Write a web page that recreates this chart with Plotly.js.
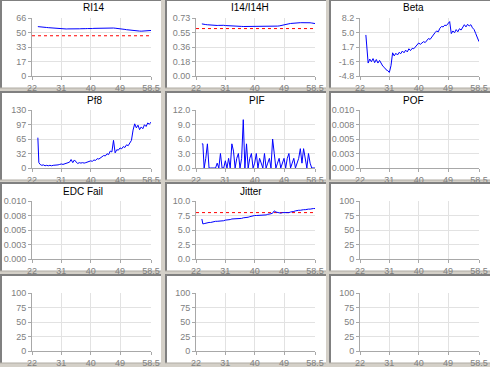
<!DOCTYPE html>
<html><head><meta charset="utf-8">
<script src="https://cdn.plot.ly/plotly-3.0.1.min.js"></script>
<style>html,body{margin:0;padding:0;background:#d4d0c8;overflow:hidden}#chart{width:490px;height:367px}</style>
</head><body><div id="chart"></div>
<script>
// ---------------- data ----------------
const time = [23.8, 24.1, 24.5, 25, 25.5, 26, 26.5, 27, 27.5, 28,
  28.5, 29, 29.5, 30, 30.5, 31, 31.5, 32, 32.5, 33,
  33.5, 34, 34.5, 35, 35.5, 36, 36.5, 37, 37.5, 38,
  38.5, 39, 39.5, 40, 40.5, 41, 41.5, 42, 42.5, 43,
  43.5, 44, 44.5, 45, 45.5, 46, 46.5, 47, 47.5, 48,
  48.5, 49, 49.5, 50, 50.5, 51, 51.5, 52, 52.5, 53,
  53.5, 54, 54.5, 55, 55.5, 56, 56.5, 57, 57.5, 58,
  58.5];
const xTickVals = [22, 31, 40, 49, 58.5];
const xTickText = ['22', '31', '40', '49', '58.5'];
const limitX = [22, 58.5];

const ri14 = [56.2, 56.0, 55.8, 55.7, 55.5, 55.3, 55.2, 55.0, 54.8, 54.6,
  54.4, 54.2, 54.0, 53.8, 53.7, 53.6, 53.6, 53.5, 53.5, 53.6,
  53.5, 53.6, 53.7, 53.6, 53.5, 53.6, 53.7, 53.8, 53.6, 53.7,
  53.9, 54.0, 53.8, 54.1, 54.0, 54.2, 54.3, 54.2, 54.4, 54.5,
  54.4, 54.6, 54.5, 54.7, 54.6, 54.7, 54.5, 54.6, 54.4, 54.3,
  54.2, 54.0, 53.7, 53.3, 53.0, 52.7, 52.4, 52.2, 51.9, 51.7,
  51.5, 51.3, 51.2, 51.1, 51.0, 51.1, 51.2, 51.4, 51.5, 51.6,
  51.8];
const ri14Limit = [45.8, 45.8];

const i14 = [0.656, 0.652, 0.650, 0.647, 0.645, 0.642, 0.641, 0.639, 0.638, 0.637,
  0.636, 0.637, 0.639, 0.640, 0.638, 0.635, 0.633, 0.631, 0.630, 0.629,
  0.628, 0.627, 0.627, 0.626, 0.625, 0.624, 0.623, 0.623, 0.622, 0.621,
  0.621, 0.620, 0.620, 0.620, 0.619, 0.619, 0.620, 0.619, 0.620, 0.620,
  0.620, 0.621, 0.621, 0.622, 0.623, 0.624, 0.626, 0.628, 0.630, 0.633,
  0.637, 0.641, 0.646, 0.652, 0.657, 0.661, 0.664, 0.666, 0.668, 0.669,
  0.670, 0.671, 0.671, 0.672, 0.672, 0.673, 0.672, 0.670, 0.667, 0.664,
  0.660];
const i14Limit = [0.597, 0.597];

const beta = [4.4, 1.2, -1.9, -1.0, -1.6, -0.9, -1.8, -1.1, -1.9, -1.3,
  -2.0, -2.6, -2.9, -3.4, -3.6, -4.0, -2.5, 0.4, -0.3, 0.3,
  -0.1, 0.5, 0.2, 0.8, 0.4, 1.0, 0.6, 1.3, 0.9, 1.4,
  1.3, 1.8, 2.2, 2.6, 2.3, 2.6, 2.9, 2.7, 3.2, 3.6,
  3.4, 4.0, 4.3, 4.9, 5.3, 5.1, 5.9, 6.3, 6.2, 6.6,
  6.5, 7.0, 7.4, 4.7, 5.3, 4.9, 5.6, 5.1, 5.8, 5.5,
  6.3, 6.7, 6.2, 6.8, 6.4, 6.7, 6.0, 5.6, 4.7, 3.9,
  2.9];

const pf8 = [68, 12, 8, 6, 7, 5, 6, 5, 6, 5,
  6, 6, 7, 7, 8, 9, 8, 9, 10, 11,
  13, 19, 12, 18, 13, 10, 12, 11, 12, 11,
  12, 13, 14, 16, 15, 18, 17, 21, 20, 23,
  25, 28, 27, 32, 30, 38, 36, 62, 34, 41,
  40, 45, 43, 48, 46, 52, 50, 58, 62, 85,
  99, 90, 96, 86, 92, 88, 97, 93, 101, 98,
  103];

const pif = [5, 5, 0, 2, 5, 0, 0, 0, 0, 0,
  1, 0, 3, 0, 0, 1.5, 0, 2, 0, 5,
  3.5, 0, 2, 3, 0, 2, 10, 0, 5, 0,
  2, 3, 0, 1, 3, 0, 2, 1, 0, 3,
  0, 1, 2, 0, 6, 3, 0, 1, 2, 0,
  1, 2, 0, 2, 3, 0, 1, 2, 0, 1,
  2, 4, 1, 4, 2, 0, 3, 1, 0, 0,
  0];

const jitter = [6.9, 6.05, 6.1, 6.2, 6.2, 6.3, 6.3, 6.4, 6.4, 6.5,
  6.5, 6.5, 6.6, 6.6, 6.6, 6.7, 6.7, 6.8, 6.8, 6.9,
  6.9, 6.9, 7.0, 6.9, 7.0, 7.0, 7.1, 7.1, 7.2, 7.2,
  7.3, 7.4, 7.4, 7.5, 7.5, 7.5, 7.5, 7.6, 7.6, 7.6,
  7.6, 7.7, 7.7, 7.8, 7.9, 8.3, 8.1, 8.0, 8.0, 7.9,
  8.0, 8.0, 7.9, 8.0, 8.0, 8.1, 8.1, 8.2, 8.3, 8.4,
  8.4, 8.4, 8.5, 8.5, 8.5, 8.6, 8.6, 8.6, 8.7, 8.7,
  8.7];
const jitterLimit = [8.0, 8.0];

const panelTitles = ['RI14', 'I14/I14H', 'Beta', 'Pf8', 'PIF', 'POF', 'EDC Fail', 'Jitter', '', '', '', ''];
const yRanges = [[0, 66], [0, 0.73], [-4.8, 8.2], [0, 130], [0, 12], [0, 0.01], [0, 0.01], [0, 10], [0, 100], [0, 100], [0, 100], [0, 100]];
const yTickVals = [
  [0, 16.5, 33, 49.5, 66], [0, 0.1825, 0.365, 0.5475, 0.73], [-4.8, -1.55, 1.7, 4.95, 8.2],
  [0, 32.5, 65, 97.5, 130], [0, 3, 6, 9, 12], [0, 0.0025, 0.005, 0.0075, 0.01],
  [0, 0.0025, 0.005, 0.0075, 0.01], [0, 2.5, 5, 7.5, 10], [0, 25, 50, 75, 100],
  [0, 25, 50, 75, 100], [0, 25, 50, 75, 100], [0, 25, 50, 75, 100]];
const yTickText = [
  ['0', '17', '33', '50', '66'], ['0.00', '0.18', '0.36', '0.55', '0.73'], ['-4.8', '-1.6', '1.7', '5.0', '8.2'],
  ['0', '32', '65', '97', '130'], ['0.0', '3.0', '6.0', '9.0', '12.0'], ['0.000', '0.003', '0.005', '0.008', '0.010'],
  ['0.000', '0.003', '0.005', '0.008', '0.010'], ['0.0', '2.5', '5.0', '7.5', '10.0'], ['0', '25', '50', '75', '100'],
  ['0', '25', '50', '75', '100'], ['0', '25', '50', '75', '100'], ['0', '25', '50', '75', '100']];

// ---------------- layout geometry ----------------
const W = 490, H = 367;
const panelLeft = [0, 165, 329], panelW = 161;
const panelTop = [-1, 91, 182, 274], panelH = 89;
const titleCenters = [94, 250, 413, 94, 257, 413, 83, 251, 0, 0, 0, 0];
const px = v => v / W, py = v => 1 - v / H;

const layout = {
  width: W, height: H, margin: {l: 0, r: 0, t: 0, b: 0},
  paper_bgcolor: '#d4d0c8', plot_bgcolor: 'rgba(0,0,0,0)',
  showlegend: false, shapes: [], annotations: [],
  font: {family: 'Liberation Sans, Arial, sans-serif'}
};

for (let i = 0; i < 12; i++) {
  const r = Math.floor(i / 3), c = i % 3;
  const L = panelLeft[c], T = panelTop[r];
  layout.shapes.push({type: 'rect', xref: 'paper', yref: 'paper', layer: 'below',
    x0: px(L), x1: px(L + panelW), y0: py(T), y1: py(T + panelH),
    fillcolor: '#ffffff', line: {width: 0}});
  layout.shapes.push({type: 'line', xref: 'paper', yref: 'paper', layer: 'below',
    x0: px(L + 1), x1: px(L + 1), y0: py(T), y1: py(T + panelH), line: {color: '#808080', width: 2}});
  layout.shapes.push({type: 'line', xref: 'paper', yref: 'paper', layer: 'below',
    x0: px(L), x1: px(L + panelW), y0: py(T + 1), y1: py(T + 1), line: {color: '#808080', width: 2}});
  layout.shapes.push({type: 'line', xref: 'paper', yref: 'paper', layer: 'below',
    x0: px(L), x1: px(L + panelW), y0: py(T + panelH), y1: py(T + panelH), line: {color: '#b0aca4', width: 1}});

  const pl = c * 164 + 32, pr = c * 164 + 151;
  const pt = T + 19, pb = pt + 58;
  const sfx = i === 0 ? '' : String(i + 1);
  const tickfont = {size: 9, color: '#808080', family: 'Liberation Sans, Arial, sans-serif'};
  layout['xaxis' + sfx] = {
    domain: [px(pl), px(pr)], anchor: 'y' + sfx, range: [22, 58.5],
    tickmode: 'array', tickvals: xTickVals, ticktext: xTickText,
    showgrid: true, gridcolor: '#e2e2e2', gridwidth: 1, zeroline: false,
    showline: true, linecolor: '#a8a8a8', linewidth: 1,
    ticks: 'outside', ticklen: 3, tickcolor: '#a8a8a8', tickfont: tickfont, fixedrange: true
  };
  layout['yaxis' + sfx] = {
    domain: [py(pb), py(pt)], anchor: 'x' + sfx, range: yRanges[i],
    tickmode: 'array', tickvals: yTickVals[i], ticktext: yTickText[i],
    showgrid: true, gridcolor: '#e2e2e2', gridwidth: 1, zeroline: false,
    showline: true, linecolor: '#a8a8a8', linewidth: 1,
    ticks: 'outside', ticklen: 3, tickcolor: '#a8a8a8', tickfont: tickfont, fixedrange: true
  };
  if (panelTitles[i]) {
    layout.annotations.push({text: panelTitles[i], xref: 'paper', yref: 'paper',
      x: px(titleCenters[i]), y: py(T + 9), xanchor: 'center', yanchor: 'middle',
      showarrow: false, font: {size: 10, color: '#000000', family: 'Liberation Sans, Arial, sans-serif'}});
  }
}

const blue = {color: '#0000ff', width: 1};
const red = {color: '#ff0000', width: 1, dash: 'dot'};
const ax = i => (i === 0 ? {xaxis: 'x', yaxis: 'y'} : {xaxis: 'x' + (i + 1), yaxis: 'y' + (i + 1)});
const traces = [
  Object.assign({x: limitX, y: ri14Limit, mode: 'lines', line: red}, ax(0)),
  Object.assign({x: time, y: ri14, mode: 'lines', line: blue}, ax(0)),
  Object.assign({x: limitX, y: i14Limit, mode: 'lines', line: red}, ax(1)),
  Object.assign({x: time, y: i14, mode: 'lines', line: blue}, ax(1)),
  Object.assign({x: time, y: beta, mode: 'lines', line: blue}, ax(2)),
  Object.assign({x: time, y: pf8, mode: 'lines', line: blue}, ax(3)),
  Object.assign({x: time, y: pif, mode: 'lines', line: blue}, ax(4)),
  Object.assign({x: [], y: [], mode: 'lines', line: blue}, ax(5)),
  Object.assign({x: [], y: [], mode: 'lines', line: blue}, ax(6)),
  Object.assign({x: limitX, y: jitterLimit, mode: 'lines', line: red}, ax(7)),
  Object.assign({x: time, y: jitter, mode: 'lines', line: blue}, ax(7)),
  Object.assign({x: [], y: [], mode: 'lines', line: blue}, ax(8)),
  Object.assign({x: [], y: [], mode: 'lines', line: blue}, ax(9)),
  Object.assign({x: [], y: [], mode: 'lines', line: blue}, ax(10)),
  Object.assign({x: [], y: [], mode: 'lines', line: blue}, ax(11))
];
traces.forEach(t => { t.hoverinfo = 'skip'; t.type = 'scatter'; });

Plotly.newPlot('chart', traces, layout, {staticPlot: true, displayModeBar: false});
</script>
</body></html>
